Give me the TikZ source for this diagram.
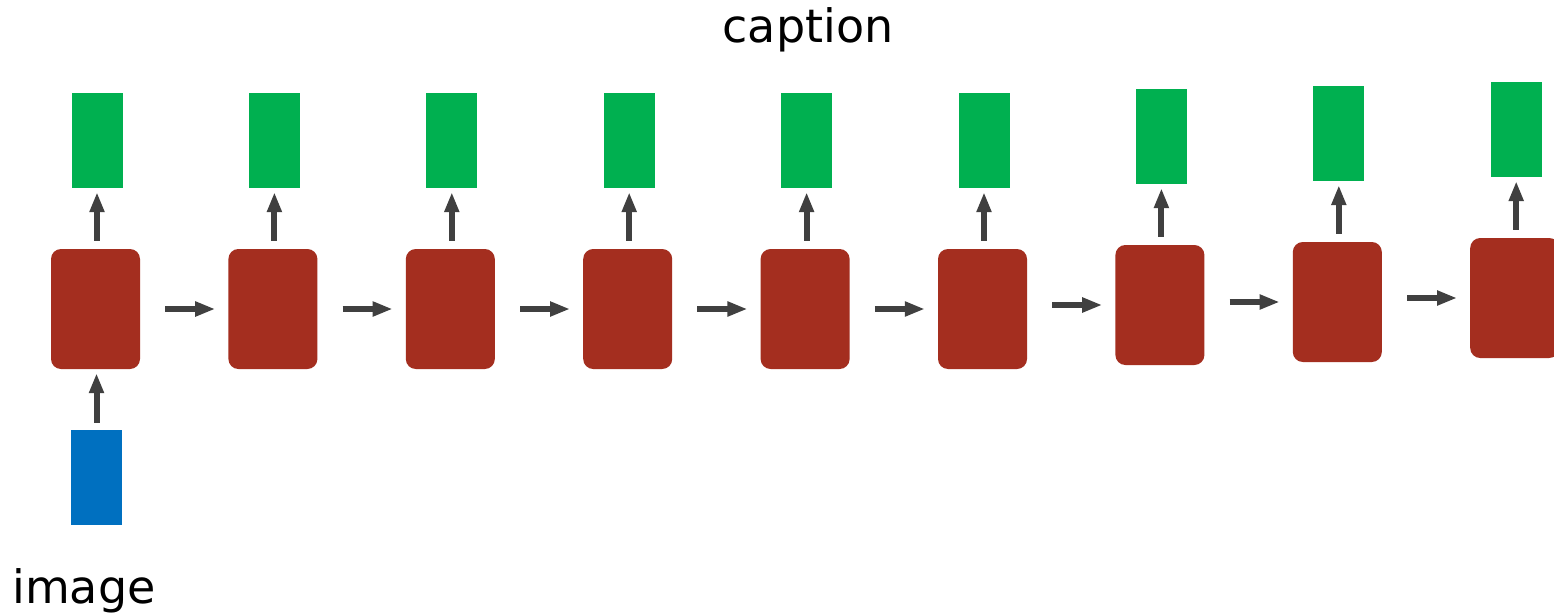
\documentclass[tikz,border=0pt]{standalone}
\usepackage{fontspec}
\setmainfont{DejaVu Sans}
\usetikzlibrary{arrows.meta}
\definecolor{cellred}{HTML}{A42E1F}
\definecolor{outgreen}{HTML}{00B050}
\definecolor{inblue}{HTML}{0070C0}
\definecolor{arrowgray}{HTML}{404040}
\tikzset{
  cell/.style={rectangle, rounded corners=10pt, fill=cellred, minimum width=89pt, minimum height=120pt, inner sep=0pt},
  word/.style={rectangle, fill=outgreen, minimum width=51pt, minimum height=95pt, inner sep=0pt},
  feat/.style={rectangle, fill=inblue, minimum width=51pt, minimum height=95pt, inner sep=0pt},
  flow/.style={draw=arrowgray, line width=6pt, -{Triangle[length=20pt,width=14pt]}},
  label/.style={font=\fontsize{46}{55}\selectfont, inner sep=0pt, anchor=base}
}
\begin{document}
\begin{tikzpicture}[x=1pt, y=-1pt]
  \clip (0,0) rectangle (1554,615);
  \fill[white] (0,0) rectangle (1554,615);
  % unrolled recurrent cells with their outputs
  \foreach \i/\dy in {1/0, 2/0, 3/0, 4/0, 5/0, 6/0, 7/-4, 8/-7, 9/-11} {
    \pgfmathsetmacro{\cx}{95.5 + 177.4*(\i-1)}
    \node[cell] (r\i) at (\cx, 309+\dy) {};
    \node[word] (g\i) at (\cx+1.5, 140.5+\dy) {};
    \draw[flow, shorten <=8pt, shorten >=4pt] (r\i.north -| g\i) -- (g\i.south);
  }
  % recurrent connections between consecutive cells
  \foreach \i [evaluate=\i as \j using int(\i+1)] in {1,...,8} {
    \draw[flow, shorten <=25pt, shorten >=13pt] (r\i.east |- r\j) -- (r\j.west);
  }
  % image input
  \node[feat] (img) at (96.5, 477.5) {};
  \draw[flow, shorten <=7pt, shorten >=4pt] (img.north) -- (r1.south -| img);
  \node[label] (imgtext) at (84, 603) {image};
  \node[label] (captext) at (808, 43) {caption};
\end{tikzpicture}
\end{document}
